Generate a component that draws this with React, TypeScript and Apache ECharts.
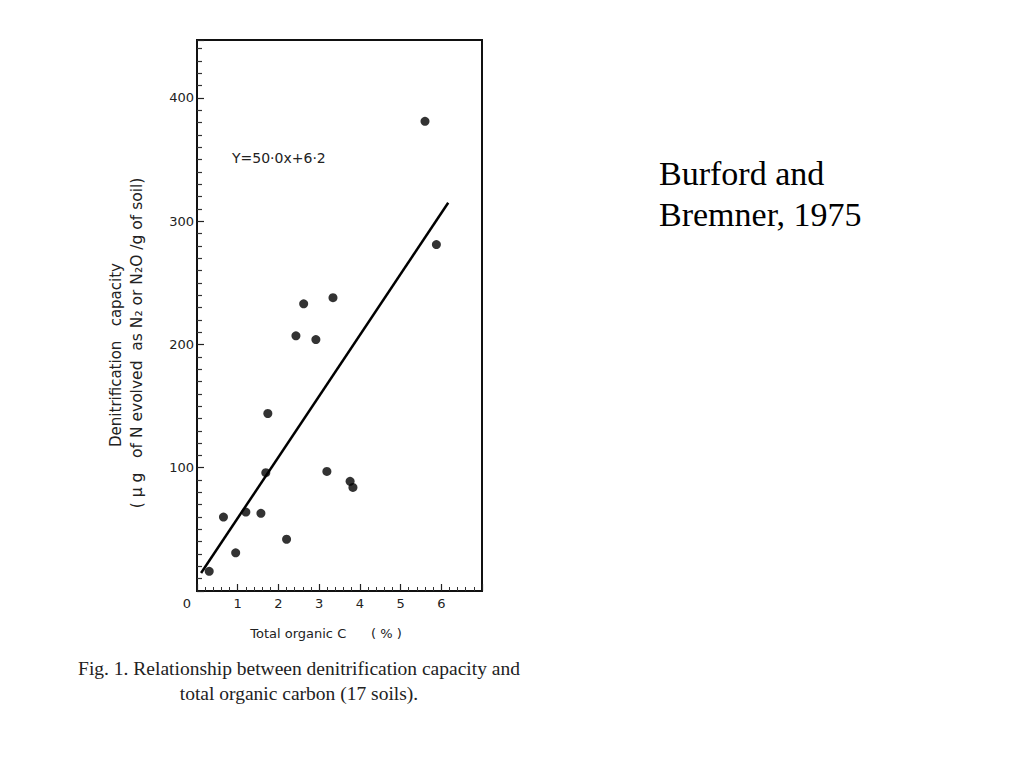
import React, { useEffect, useRef } from "react";
import * as echarts from "echarts";

const soilCarbon = [0.3, 0.65, 0.95, 1.2, 1.57, 1.69, 1.74, 2.2, 2.43, 2.62, 2.92, 3.34, 3.19, 3.76, 3.83, 5.6, 5.88];
const denitCapacity = [16, 60, 31, 64, 63, 96, 144, 42, 207, 233, 204, 238, 97, 89, 84, 381, 281];
const fitLineX = [0.1, 6.17];
const fitLineY = [14.6, 315];
const xTickLabels = ["0", "1", "2", "3", "4", "5", "6"];
const yTickLabels = ["100", "200", "300", "400"];

const SANS = "'DejaVu Sans', 'Liberation Sans', Arial, sans-serif";
const SERIF = "'Liberation Serif', 'DejaVu Serif', 'Times New Roman', serif";

export default function App() {
  const ref = useRef<HTMLDivElement>(null);
  useEffect(() => {
    if (!ref.current) return;
    const chart = echarts.init(ref.current, null, { renderer: "svg" });
    const points = soilCarbon.map((x, i) => [x, denitCapacity[i]]);
    const line = fitLineX.map((x, i) => [x, fitLineY[i]]);
    chart.setOption({
      animation: false,
      backgroundColor: "#ffffff",
      grid: {
        left: 197,
        right: 542,
        top: 40,
        bottom: 177,
        show: true,
        borderColor: "#111",
        borderWidth: 2,
        containLabel: false,
        outerBoundsMode: "none",
      },
      xAxis: {
        type: "value",
        min: 0,
        max: 7,
        interval: 1,
        splitLine: { show: false },
        axisLine: { show: true, onZero: false, lineStyle: { color: "#111", width: 2 } },
        axisTick: { show: true, inside: true, length: 7, lineStyle: { color: "#222", width: 1.2 } },
        minorTick: { show: true, splitNumber: 5, length: 4, lineStyle: { color: "#333", width: 1 } },
        axisLabel: {
          color: "#222",
          fontFamily: SANS,
          fontSize: 13,
          margin: 6,
          showMaxLabel: false,
          formatter: (v: number) => {
            const s = String(Math.round(v));
            if (!xTickLabels.includes(s) || Math.abs(v - Math.round(v)) > 1e-6) return "";
            return v === 0 ? "{z|0}" : s;
          },
          rich: { z: { fontFamily: SANS, fontSize: 13, color: "#222", padding: [0, 20, 0, 0] } },
        },
      },
      yAxis: {
        type: "value",
        min: 0,
        max: 447,
        interval: 100,
        splitLine: { show: false },
        axisLine: { show: true, onZero: false, lineStyle: { color: "#111", width: 2 } },
        axisTick: { show: true, inside: true, length: 7, lineStyle: { color: "#222", width: 1.2 } },
        minorTick: { show: true, splitNumber: 10, length: 5, lineStyle: { color: "#333", width: 1.2 } },
        axisLabel: {
          color: "#222",
          fontFamily: SANS,
          fontSize: 13,
          margin: 3,
          showMaxLabel: false,
          formatter: (v: number) => (yTickLabels.includes(String(v)) ? String(v) : ""),
        },
      },
      series: [
        {
          type: "line",
          data: line,
          symbol: "none",
          lineStyle: { color: "#000", width: 2.5 },
          z: 2,
        },
        {
          type: "scatter",
          data: points,
          symbol: "circle",
          symbolSize: 9,
          itemStyle: { color: "#000" },
          z: 3,
        },
      ],
      graphic: [
        {
          type: "text",
          x: 232,
          y: 158,
          style: {
            text: "Y=50·0x+6·2",
            fontFamily: SANS,
            fontSize: 14,
            fill: "#222",
            verticalAlign: "middle",
            align: "left",
          },
        },
        {
          type: "text",
          x: 116,
          y: 355,
          rotation: Math.PI / 2,
          style: {
            text: "Denitrification   capacity",
            fontFamily: SANS,
            fontSize: 15,
            fill: "#222",
            align: "center",
            verticalAlign: "middle",
          },
        },
        {
          type: "text",
          x: 137,
          y: 343,
          rotation: Math.PI / 2,
          style: {
            text: "( μ g   of N evolved  as N₂ or N₂O /g of soil)",
            fontFamily: SANS,
            fontSize: 15.5,
            fill: "#222",
            align: "center",
            verticalAlign: "middle",
          },
        },
        {
          type: "text",
          x: 326,
          y: 633,
          style: {
            text: "Total organic C      ( % )",
            fontFamily: SANS,
            fontSize: 13,
            fill: "#222",
            align: "center",
            verticalAlign: "middle",
          },
        },
        {
          type: "text",
          x: 299,
          y: 668,
          style: {
            text: "Fig. 1. Relationship between denitrification capacity and",
            fontFamily: SERIF,
            fontSize: 19.5,
            fill: "#222",
            align: "center",
            verticalAlign: "middle",
          },
        },
        {
          type: "text",
          x: 299,
          y: 693,
          style: {
            text: "total organic carbon (17 soils).",
            fontFamily: SERIF,
            fontSize: 19.5,
            fill: "#222",
            align: "center",
            verticalAlign: "middle",
          },
        },
        {
          type: "text",
          x: 659,
          y: 173,
          style: {
            text: "Burford and",
            fontFamily: SERIF,
            fontSize: 34,
            fill: "#000",
            align: "left",
            verticalAlign: "middle",
          },
        },
        {
          type: "text",
          x: 659,
          y: 214,
          style: {
            text: "Bremner, 1975",
            fontFamily: SERIF,
            fontSize: 34,
            fill: "#000",
            align: "left",
            verticalAlign: "middle",
          },
        },
      ],
    });
    return () => chart.dispose();
  }, []);
  return (
    <div
      ref={ref}
      style={{ position: "absolute", left: 0, top: 0, width: 1024, height: 768 }}
    />
  );
}
